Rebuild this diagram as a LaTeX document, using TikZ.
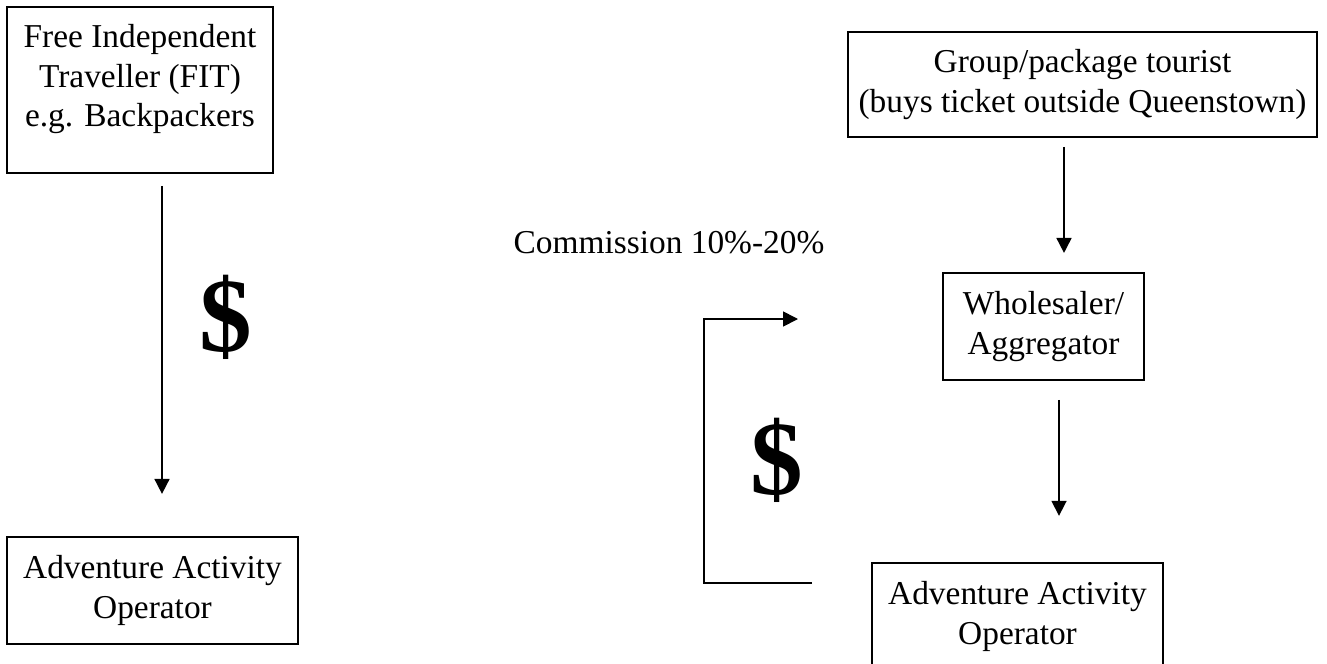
\documentclass[tikz,border=0pt]{standalone}
\usepackage{fontspec}
\setmainfont{Liberation Serif}
\usetikzlibrary{arrows.meta,positioning}

\begin{document}
\begin{tikzpicture}[
    x=0.02cm, y=-0.02cm,
    box/.style={rectangle, draw=black, line width=1.1pt, align=center, inner sep=0pt, font=\fontsize{19}{22.5}\selectfont},
    flow/.style={-{Triangle[length=0.3cm,width=0.3cm]}, line width=0.95pt},
    money/.style={font=\fontsize{60}{60}\selectfont\bfseries}
    ]
    \useasboundingbox (0,0) rectangle (1327,663);
    \node[box, minimum width=5.32cm, minimum height=3.32cm] (FIT) at (140,90) {
      Free Independent\\
      Traveller (FIT)\\
      e.g. Backpackers\rule[-0.58cm]{0pt}{0pt}
    };
    \node[box, minimum width=5.82cm, minimum height=2.14cm, below=7.24cm of FIT, xshift=0.25cm] (OperatorLeft) {
      Adventure Activity\\
      Operator
    };
    \node[box, minimum width=9.38cm, minimum height=2.1cm] (Group) at (1082.5,84.5) {
      Group/package tourist\\
      (buys ticket outside Queenstown)
    };
    \node[box, minimum width=4.02cm, minimum height=2.14cm, below=2.68cm of Group, xshift=-0.78cm] (Wholesaler) {
      Wholesaler/\\
      Aggregator
    };
    \node[box, minimum width=5.82cm, minimum height=2.14cm, below=3.62cm of Wholesaler, xshift=-0.52cm] (OperatorRight) {
      Adventure Activity\\
      Operator
    };
    \node[font=\fontsize{19}{22.5}\selectfont, anchor=base] (Commission) at (669,253) {Commission 10\%-20\%};
    \node[money] (DollarLeft) at (226,317) {\$};
    \node[money] (DollarRight) at (777,460) {\$};
    \coordinate (FITline) at (162,0);
    \coordinate (GroupLine) at (1064,0);
    \coordinate (OperatorLine) at (1059,0);
    \coordinate (ReturnStart) at (812,583);
    \coordinate (ReturnEnd) at (798,319);
    \draw[flow, shorten <=0.24cm, shorten >=0.84cm] (FIT.south -| FITline) -- (OperatorLeft.north -| FITline);
    \draw[flow, shorten <=0.18cm, shorten >=0.38cm] (Group.south -| GroupLine) -- (Wholesaler.north -| GroupLine);
    \draw[flow, shorten <=0.38cm, shorten >=0.92cm] (Wholesaler.south -| OperatorLine) -- (OperatorRight.north -| OperatorLine);
    \draw[flow] (ReturnStart) -- ++(-108,0) |- (ReturnEnd);
  \end{tikzpicture}
\end{document}
